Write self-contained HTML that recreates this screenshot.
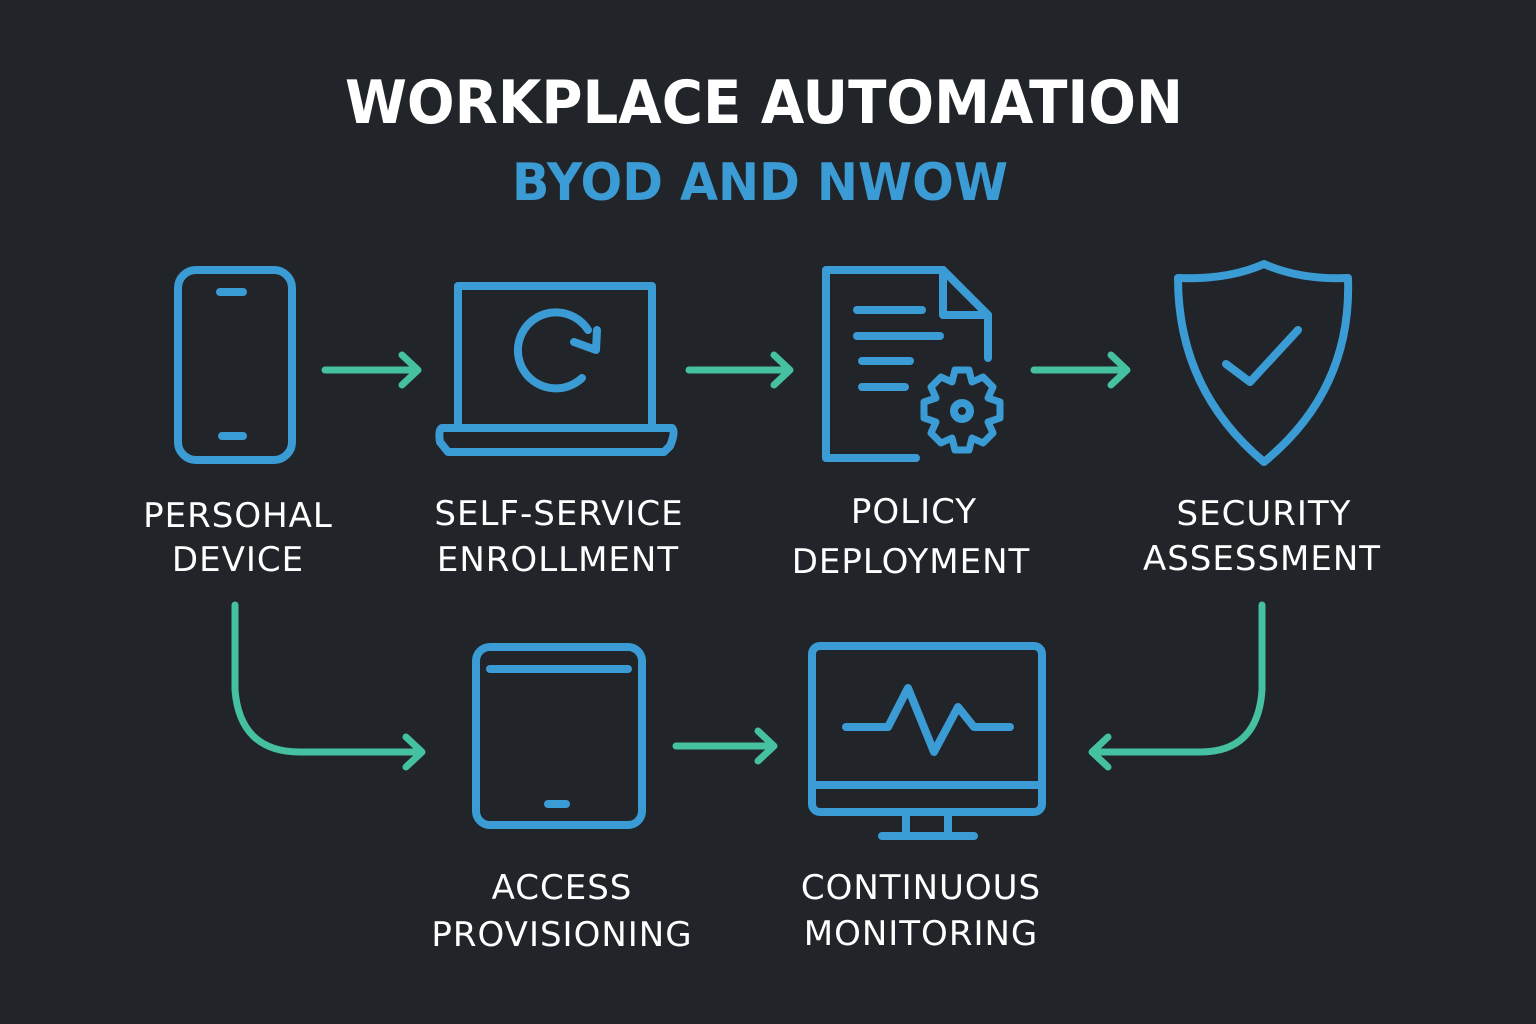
<!DOCTYPE html><html><head><style>body{margin:0;background:#212529}svg{display:block}text{font-family:"DejaVu Sans","Liberation Sans",sans-serif}</style></head><body>
<svg width="1536" height="1024" viewBox="0 0 1536 1024">
<rect width="1536" height="1024" fill="#212529"/>
<text x="345" y="123" textLength="838" lengthAdjust="spacingAndGlyphs" fill="#fff" font-size="60" font-weight="bold">WORKPLACE AUTOMATION</text>
<text x="512" y="200" textLength="496" lengthAdjust="spacingAndGlyphs" fill="#3a9bd5" font-size="52" font-weight="bold">BYOD AND NWOW</text>
<g fill="none" stroke="#3a9bd5" stroke-width="8" stroke-linecap="round" stroke-linejoin="round">
<rect x="178" y="270" width="114" height="190" rx="18"/><line x1="220" y1="292" x2="243" y2="292"/><line x1="222" y1="436" x2="243" y2="436"/>
<rect x="458" y="286" width="194" height="142"/><path d="M442 428H672Q676 432 670 446L664 452H448L440 442Q438 430 442 428Z"/>
<path d="M582 378A38 38 0 1 1 588 330"/><path d="M574 342L596 350L597 330"/>
<path d="M826 270H943L988 315V358M916 458H826V270"/><path d="M943 270V315H988"/>
<line x1="857" y1="310" x2="922" y2="310"/><line x1="857" y1="336" x2="940" y2="336"/><line x1="862" y1="361" x2="910" y2="361"/><line x1="862" y1="387" x2="905" y2="387"/>
<circle cx="962" cy="411" r="8"/>
<path d="M955 370H969L972 382L983 377L993 387L988 398L1000 402V418L988 422L993 433L983 443L972 438L969 450H955L952 438L941 443L931 433L936 422L924 418V402L936 398L931 387L941 377L952 382Z" stroke-width="7"/>
<path d="M1264 264Q1300 280 1348 278Q1352 390 1264 462Q1178 390 1178 278Q1228 280 1264 264Z"/><path d="M1226 364L1250 382L1298 330"/>
<rect x="476" y="647" width="166" height="178" rx="14"/><line x1="490" y1="669" x2="628" y2="669"/><line x1="548" y1="804" x2="566" y2="804"/>
<rect x="812" y="646" width="230" height="166" rx="8"/><line x1="812" y1="785" x2="1042" y2="785"/><path d="M906 812V836M948 812V836M882 836H974"/>
<path d="M846 727H888L908 688L934 752L958 707L974 727H1010"/>
</g>
<g fill="none" stroke="#45c0a0" stroke-width="7" stroke-linecap="round" stroke-linejoin="round">
<path d="M325 370H416M402 355L418 370L402 385"/>
<path d="M689 370H788M774 355L790 370L774 385"/>
<path d="M1034 370H1125M1111 355L1127 370L1111 385"/>
<path d="M235 605V690Q240 752 300 752H420M406 737L422 752L406 767"/>
<path d="M676 746H772M758 731L774 746L758 761"/>
<path d="M1262 605V690Q1258 752 1200 752H1094M1108 737L1092 752L1108 767"/>
</g>
<g fill="#fff" font-size="34" text-anchor="middle" letter-spacing="1">
<text x="238" y="527">PERSOHAL</text><text x="238" y="571">DEVICE</text>
<text x="559" y="525">SELF-SERVICE</text><text x="558" y="571">ENROLLMENT</text>
<text x="914" y="523">POLICY</text><text x="911" y="573">DEPLOYMENT</text>
<text x="1264" y="525">SECURITY</text><text x="1262" y="570">ASSESSMENT</text>
<text x="562" y="899">ACCESS</text><text x="562" y="946">PROVISIONING</text>
<text x="921" y="899">CONTINUOUS</text><text x="921" y="945">MONITORING</text>
</g>
</svg></body></html>
